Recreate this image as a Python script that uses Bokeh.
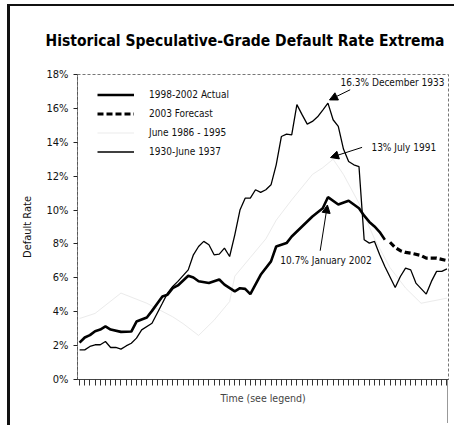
from bokeh.plotting import figure
from bokeh.models import (Legend, LegendItem, Label, Arrow, NormalHead, FixedTicker, Range1d)
from bokeh.embed import file_html
from bokeh.resources import INLINE

FONT = "'DejaVu Sans Condensed', 'Roboto Condensed', Roboto, sans-serif"

# ---- data (month index on a shared "time" axis) ----
actual_m = [0, 1, 2, 3, 4, 5, 6, 8, 10, 11, 13, 14, 16, 17, 18, 19, 21, 22, 23, 25, 27, 28,
            30, 31, 32, 33, 35, 37, 38, 40, 41, 43, 45, 47, 48, 50, 52, 54, 55, 56, 57, 58, 59]
actual_v = [2.18, 2.48, 2.62, 2.85, 2.95, 3.13, 2.95, 2.81, 2.83, 3.42, 3.66, 4.05, 4.9, 5.0,
            5.39, 5.55, 6.12, 6.02, 5.8, 5.69, 5.9, 5.6, 5.2, 5.39, 5.35, 5.04, 6.18, 6.97,
            7.85, 8.05, 8.44, 9.03, 9.62, 10.11, 10.76, 10.33, 10.55, 10.11, 9.67, 9.3, 9.03,
            8.7, 8.25]

forecast_m = [60, 61, 62, 63, 64, 66, 67, 69, 71]
forecast_v = [8.1, 7.79, 7.6, 7.5, 7.46, 7.32, 7.16, 7.16, 7.02]

s1986_m = [0, 3, 8, 13, 18, 20, 23, 26, 29, 30, 33, 36, 38, 41, 45, 47, 49, 51, 54, 57, 60,
           63, 66, 71]
s1986_v = [3.6, 3.9, 5.1, 4.5, 3.7, 3.3, 2.6, 3.5, 4.6, 6.1, 7.2, 8.3, 9.4, 10.6, 12.1, 12.5,
           13.0, 12.1, 10.4, 8.3, 6.6, 5.4, 4.5, 4.8]

s1930_m = [0, 1, 2, 3, 4, 5, 6, 7, 8, 9, 10, 11, 12, 14, 15, 16, 17, 18, 19, 21, 22, 23, 24,
           25, 26, 27, 28, 29, 30, 31, 32, 33, 34, 35, 36, 37, 38, 39, 40, 41, 42, 43, 44, 45,
           46, 47, 48, 49, 50, 51, 52, 53, 54, 55, 56, 57, 58, 59, 61, 62, 63, 64, 65, 67, 68,
           69, 70, 71]
s1930_v = [1.75, 1.75, 1.95, 2.05, 2.05, 2.24, 1.89, 1.89, 1.79, 1.98, 2.14, 2.44, 2.93, 3.32,
           3.91, 4.5, 5.1, 5.49, 5.79, 6.47, 7.36, 7.85, 8.15, 7.95, 7.36, 7.4, 7.75, 7.26,
           8.54, 10.0, 10.7, 10.7, 11.2, 11.04, 11.2, 11.49, 12.67, 14.34, 14.48, 14.44,
           16.22, 15.63, 15.07, 15.23, 15.5, 15.9, 16.31, 15.33, 14.94, 13.6, 12.87, 12.67,
           12.57, 8.25, 8.05, 8.15, 7.36, 6.67, 5.43, 6.08, 6.57, 6.47, 5.69, 5.04, 5.79,
           6.38, 6.38, 6.53]

month_ticks = list(range(0, 72))
y_ticks = [0, 2, 4, 6, 8, 10, 12, 14, 16, 18]
y_tick_labels = ["0%", "2%", "4%", "6%", "8%", "10%", "12%", "14%", "16%", "18%"]

legend_labels = ["1998-2002 Actual", "2003 Forecast", "June 1986 - 1995", "1930-June 1937"]

# annotations: (text, text x, text y, text align, arrow tail x, tail y, head x, head y)
notes = [
    ("16.3% December 1933", 70.5, 17.5, "right", 52.3, 17.1, 48.3, 16.5),
    ("13% July 1991", 56.4, 13.7, "left", 54.6, 13.7, 48.5, 13.1),
    ("10.7% January 2002", 38.8, 7.0, "left", 46.5, 7.6, 47.9, 10.3),
]

title_text = "Historical Speculative-Grade Default Rate Extrema"
x_label = "Time (see legend)"
y_label = "Default Rate"

# ---- figure ----
p = figure(width=454, height=425, x_range=Range1d(-0.4, 71.3), y_range=Range1d(0, 18),
           output_backend="svg", toolbar_location=None,
           min_border_left=77, min_border_right=6, min_border_top=74, min_border_bottom=46)
p.grid.visible = False
p.background_fill_color = "white"
p.border_fill_color = None
p.styles = {
    "background-color": "white",
    "background-image": ("linear-gradient(#111, #111), linear-gradient(#111, #111), "
                         "linear-gradient(#999, #999)"),
    "background-size": "3px 425px, 447px 2px, 1px 44px",
    "background-position": "7px 4px, 7px 4px, 447px 379px",
    "background-repeat": "no-repeat",
}
p.outline_line_color = "#777777"
p.outline_line_dash = "3 2"
p.outline_line_width = 1

p.title.text = title_text
p.title.align = "left"
p.title.offset = -32
p.title.standoff = 50
p.title.text_font = FONT
p.title.text_font_size = "15.5px"
p.title.text_font_style = "bold"
p.title.text_color = "black"

xa = p.xaxis[0]
xa.ticker = FixedTicker(ticks=month_ticks)
xa.major_tick_out = 6
xa.major_tick_in = 0
xa.minor_tick_line_color = None
xa.major_tick_line_color = "#333333"
xa.axis_line_color = "#444444"
xa.major_label_text_font_size = "0px"
xa.major_label_standoff = 0
xa.axis_label = x_label
xa.axis_label_text_font = FONT
xa.axis_label_text_font_style = "normal"
xa.axis_label_text_font_size = "10.5px"
xa.axis_label_standoff = 6

ya = p.yaxis[0]
ya.ticker = FixedTicker(ticks=y_ticks)
ya.major_label_overrides = {t: l for t, l in zip(y_ticks, y_tick_labels)}
ya.major_tick_out = 4
ya.major_tick_in = 0
ya.minor_tick_line_color = None
ya.major_tick_line_color = "#222222"
ya.axis_line_color = "#555555"
ya.axis_line_dash = "3 2"
ya.major_label_text_font = FONT
ya.major_label_text_font_size = "11px"
ya.major_label_text_color = "#111111"
ya.major_label_standoff = 5
ya.axis_label = y_label
ya.axis_label_text_font = FONT
ya.axis_label_text_font_style = "normal"
ya.axis_label_text_font_size = "11px"
ya.axis_label_text_color = "#111111"
ya.axis_label_standoff = 10

# ---- series ----
r86 = p.line(s1986_m, s1986_v, line_color="#ebebeb", line_width=1)
r30 = p.line(s1930_m, s1930_v, line_color="black", line_width=1.3)
ract = p.line(actual_m, actual_v, line_color="black", line_width=2.6)
rfc = p.line(forecast_m, forecast_v, line_color="black", line_width=3.2, line_dash="6 3")

legend = Legend(items=[LegendItem(label=legend_labels[0], renderers=[ract]),
                       LegendItem(label=legend_labels[1], renderers=[rfc]),
                       LegendItem(label=legend_labels[2], renderers=[r86]),
                       LegendItem(label=legend_labels[3], renderers=[r30])],
                location=(20, 218), border_line_color=None, background_fill_alpha=0,
                glyph_width=37, glyph_height=19, label_height=19, spacing=0, padding=0,
                margin=0, label_standoff=15, label_text_font=FONT,
                label_text_font_size="10px", label_text_color="#111111")
p.add_layout(legend)

for txt, tx, ty, al, x0, y0, x1, y1 in notes:
    p.add_layout(Label(x=tx, y=ty, text=txt, text_font=FONT, text_font_size="10px",
                       text_align=al, text_baseline="middle", text_color="#111111"))
    p.add_layout(Arrow(x_start=x0, y_start=y0, x_end=x1, y_end=y1, line_width=1,
                       line_color="black",
                       end=NormalHead(size=8, fill_color="black", line_color="black")))

open("out.html", "w").write(file_html(p, INLINE))
